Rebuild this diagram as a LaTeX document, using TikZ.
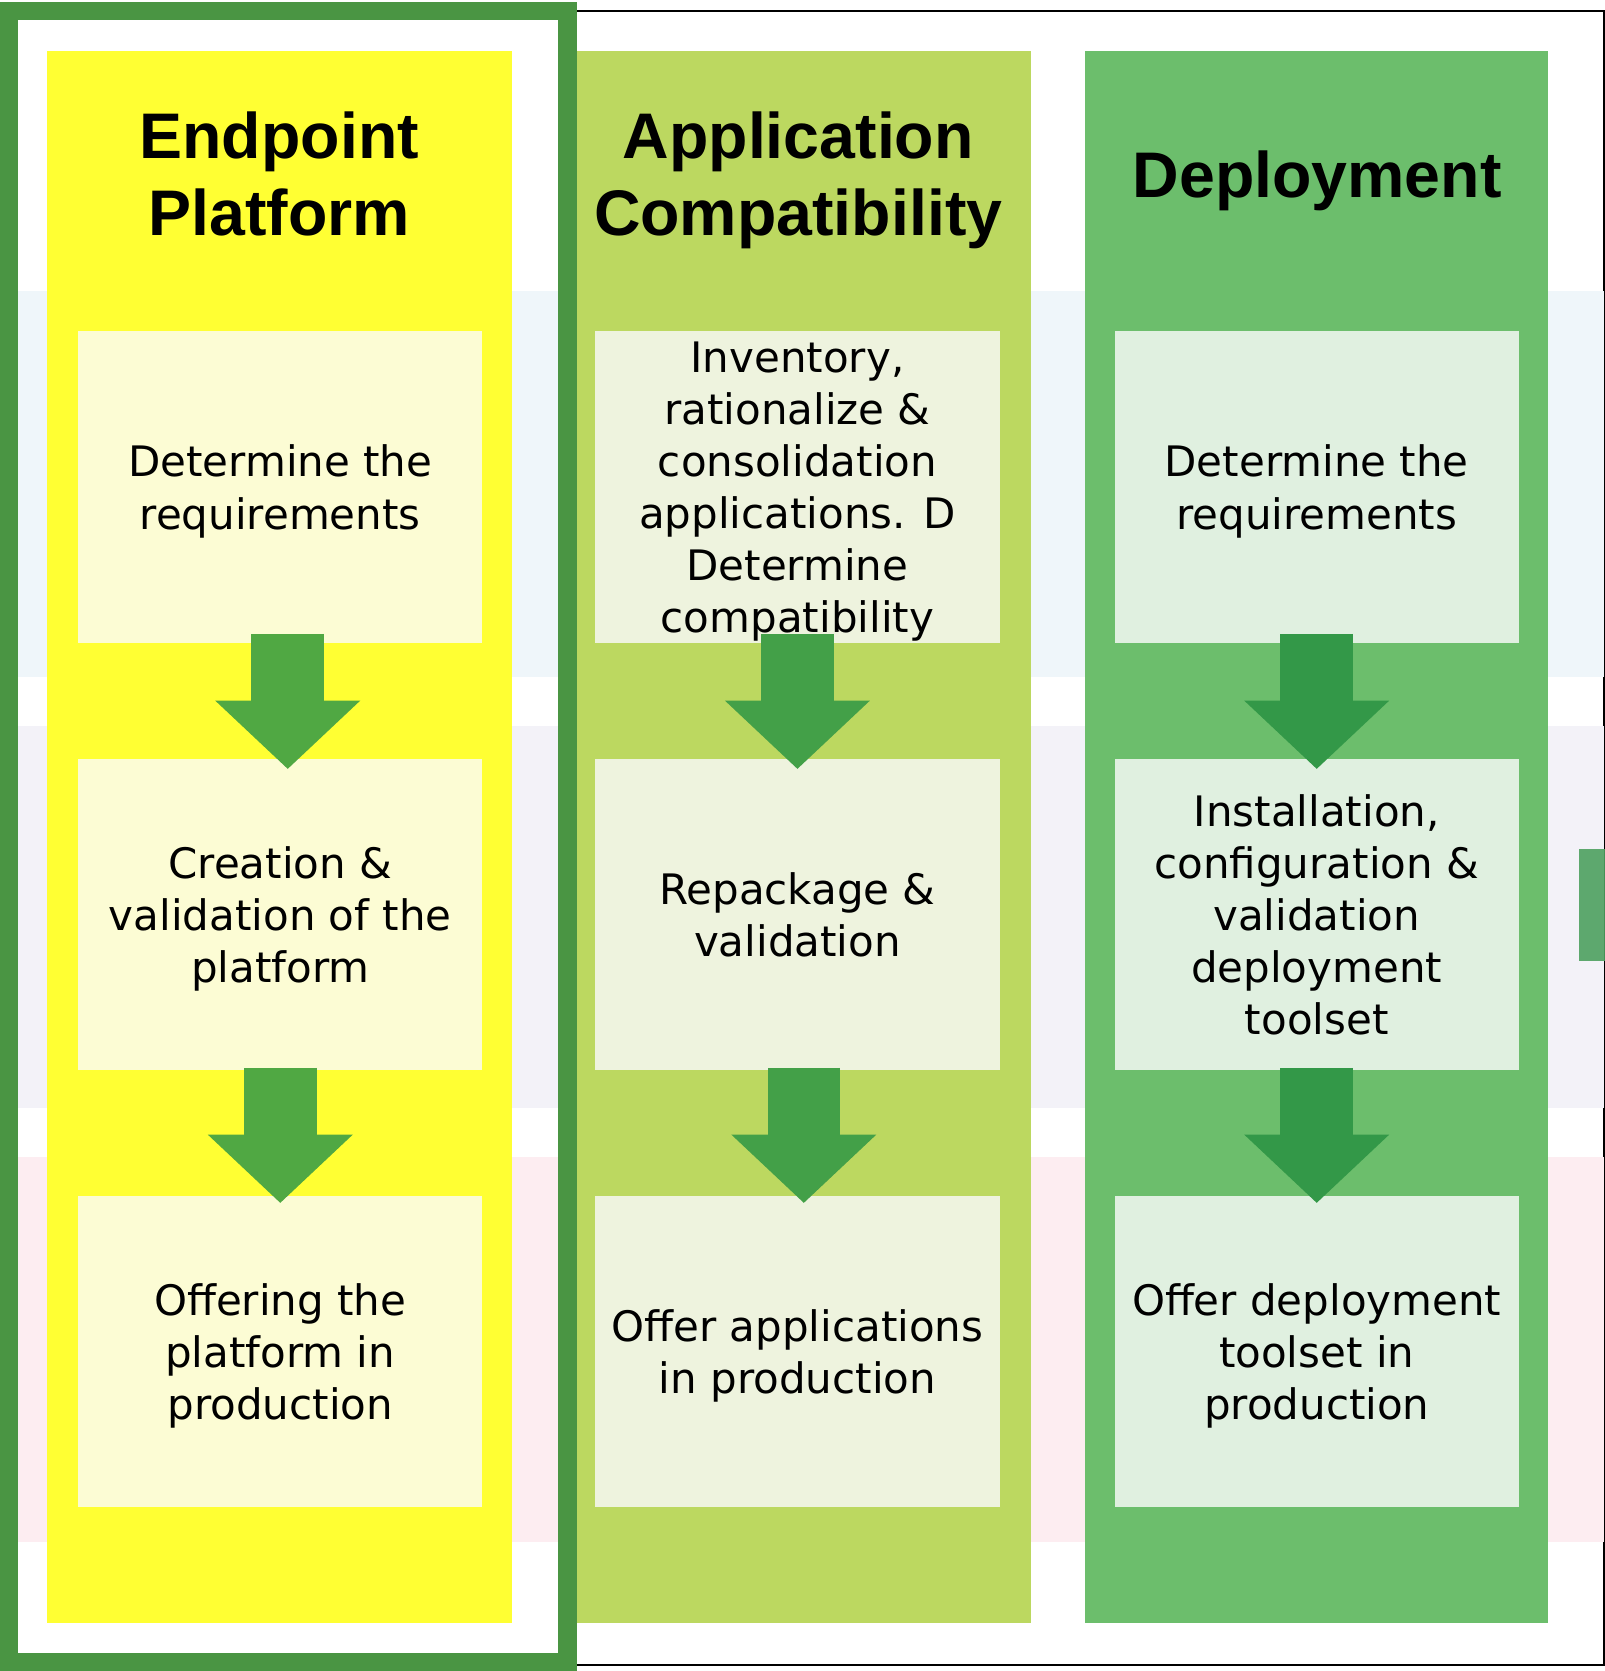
\documentclass[tikz,border=0pt]{standalone}
\usepackage{fontspec}
\setmainfont{DejaVu Sans}
\newfontfamily\headfont{Liberation Sans}
\usetikzlibrary{positioning,arrows.meta}

\definecolor{frameGreen}{RGB}{74,149,67}
\definecolor{colA}{RGB}{255,255,51}
\definecolor{colB}{RGB}{188,216,96}
\definecolor{colC}{RGB}{108,190,108}
\definecolor{boxA}{RGB}{252,252,212}
\definecolor{boxB}{RGB}{238,243,222}
\definecolor{boxC}{RGB}{224,240,224}
\definecolor{arrowA}{RGB}{80,168,67}
\definecolor{arrowB}{RGB}{67,160,72}
\definecolor{arrowC}{RGB}{51,152,72}
\definecolor{bandA}{RGB}{239,246,250}
\definecolor{bandB}{RGB}{243,242,248}
\definecolor{bandC}{RGB}{253,237,241}
\definecolor{tabGreen}{RGB}{77,160,96}

\begin{document}
\begin{tikzpicture}[
        x=0.01cm,y=-0.01cm,
        on grid,node distance=4.01cm and 4.85cm,
        stepbox/.style={
          inner sep=0pt,minimum width=3.79cm,minimum height=2.92cm,text depth=0pt,
          align=center,font=\fontsize{11.2}{13.9}\selectfont},
        heading/.style={
          align=center,text depth=0pt,font=\headfont\bfseries\fontsize{17.2}{20.5}\selectfont},
        flow/.style={
          line width=0.68cm,-{Triangle[width=1.36cm,length=0.64cm,line width=0pt]}}]
      \useasboundingbox (0,0) rectangle (1506,1568);
      \fill[white] (0,0) rectangle (1506,1568);
      % frame and row bands
      \draw[line width=0.5pt] (530,10) rectangle (1505,1562);
      \fill[bandA] (17,273) rectangle (1505,635);
      \fill[bandB] (17,681) rectangle (1505,1040);
      \fill[bandC] (17,1086) rectangle (1505,1447);
      % columns
      \fill[colA] (44,48) rectangle (480,1523);
      \fill[colB] (541,48) rectangle (967,1523);
      \fill[colC] (1018,48) rectangle (1453,1523);
      \node[heading] (eptitle) at (262,163) {Endpoint\\Platform};
      \node[heading] (actitle) at (749,163) {Application\\Compatibility};
      \node[heading] (dptitle) at (1236,163) {Deployment};
      % steps
      \node[stepbox, fill=boxA] (ep1) at (263,457) {Determine the\\requirements};
      \node[stepbox, fill=boxA, below=of ep1] (ep2) {Creation \&\\validation of the\\platform};
      \node[stepbox, fill=boxA, below=4.1cm of ep2] (ep3) {Offering the\\platform in\\production};
      \node[stepbox, fill=boxB, right=of ep1] (ac1) {Inventory,\\rationalize \&\\consolidation\\applications. D\\Determine\\compatibility};
      \node[stepbox, fill=boxB, below=of ac1] (ac2) {Repackage \&\\validation};
      \node[stepbox, fill=boxB, below=4.1cm of ac2] (ac3) {Offer applications\\in production};
      \node[stepbox, fill=boxC, right=4.87cm of ac1] (dp1) {Determine the\\requirements};
      \node[stepbox, fill=boxC, below=of dp1] (dp2) {Installation,\\configuration \&\\validation\\deployment\\toolset};
      \node[stepbox, fill=boxC, below=4.1cm of dp2] (dp3) {Offer deployment\\toolset in\\production};
      % arrows
      \draw[flow, arrowA] ([xshift=0.07cm,yshift=0.09cm]ep1.south) -- ([xshift=0.07cm,yshift=-0.1cm]ep2.north);
      \draw[flow, arrowA] ([yshift=0.03cm]ep2.south) -- ([yshift=-0.07cm]ep3.north);
      \draw[flow, arrowB] ([yshift=0.09cm]ac1.south) -- ([yshift=-0.1cm]ac2.north);
      \draw[flow, arrowB] ([xshift=0.06cm,yshift=0.03cm]ac2.south) -- ([xshift=0.06cm,yshift=-0.07cm]ac3.north);
      \draw[flow, arrowC] ([yshift=0.09cm]dp1.south) -- ([yshift=-0.1cm]dp2.north);
      \draw[flow, arrowC] ([yshift=0.03cm]dp2.south) -- ([yshift=-0.07cm]dp3.north);
      % highlight of the first column
      \draw[frameGreen, line width=0.17cm] (8.5,10.5) rectangle (532.5,1559.5);
      \fill[tabGreen, opacity=0.9] (1482,797) rectangle (1506,902);
    \end{tikzpicture}
\end{document}
